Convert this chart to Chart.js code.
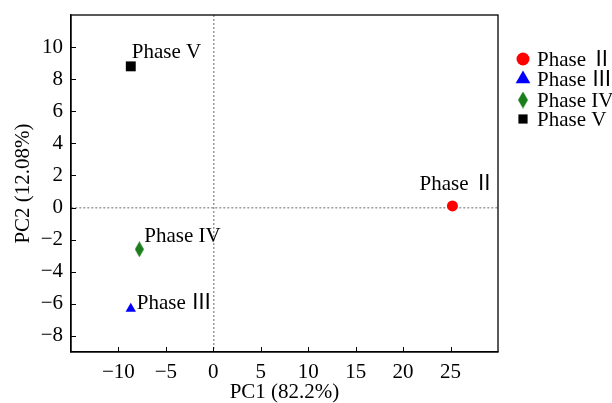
<!DOCTYPE html>
<html>
<head>
<meta charset="utf-8">
<script src="https://cdn.jsdelivr.net/npm/chart.js@4/dist/chart.umd.min.js"></script>
<style>
  html, body { margin: 0; padding: 0; background: #fff; }
  #wrap { width: 612px; height: 403px; }
</style>
</head>
<body>
<div id="wrap"><canvas id="pca"></canvas></div>
<script>
// values
var phases = ["Phase \u2161", "Phase \u2162", "Phase IV", "Phase V"];
var pc1 = [25.2, -8.7, -7.8, -8.7];
var pc2 = [0.1, -6.3, -2.6, 8.8];
var xTicks = [-10, -5, 0, 5, 10, 15, 20, 25];
var yTicks = [-8, -6, -4, -2, 0, 2, 4, 6, 8, 10];

var FONT = "'Liberation Serif', 'Noto Sans CJK SC', serif";
var FS = 21;

// narrow diamond marker
function makeDiamond(w, h, color) {
    var c = document.createElement("canvas");
    c.width = w; c.height = h;
    var g = c.getContext("2d");
    g.fillStyle = color;
    g.beginPath();
    g.moveTo(w / 2, 0);
    g.lineTo(w, h / 2);
    g.lineTo(w / 2, h);
    g.lineTo(0, h / 2);
    g.closePath();
    g.fill();
    return c;
}

var colors = ["#ff0000", "#0000ff", "#1b7d1b", "#000000"];
var styles = ["circle", "triangle", makeDiamond(9, 16, "#1b7d1b"), "rect"];
var radii = [5.5, 6, 8, 7];
var legendRadii = [6.5, 8.5, 8, 6.5];
var legendDiamond = makeDiamond(10, 17, "#1b7d1b");
// label offset from the point: [dx, dy] to the text's left baseline
var labelOffsets = [[-33, -16], [6, 0], [5, -7], [1, -8]];

var datasets = [];
for (var i = 0; i < phases.length; i++) {
    datasets.push({
        label: phases[i],
        data: [{x: pc1[i], y: pc2[i]}],
        pointStyle: styles[i],
        pointRadius: radii[i],
        pointHoverRadius: radii[i],
        backgroundColor: colors[i],
        borderColor: colors[i],
        borderWidth: 0
    });
}

function zeroLine(ctx) {
    return (ctx.tick && ctx.tick.value === 0) ? "#9a9a9a" : "rgba(0,0,0,0)";
}

function minusLabel(v) {
    return v < 0 ? "\u2212" + Math.abs(v) : String(v);
}

var framePlugin = {
    id: "frame",
    afterDraw: function(chart) {
        var ctx = chart.ctx;
        var a = chart.chartArea;
        var xs = chart.scales.x, ys = chart.scales.y;
        ctx.save();
        ctx.strokeStyle = "#000";
        ctx.lineWidth = 1.3;
        ctx.strokeRect(a.left, a.top, a.right - a.left, a.bottom - a.top);
        // inward ticks
        ctx.lineWidth = 1;
        ctx.beginPath();
        xTicks.forEach(function(v) {
            var px = Math.round(xs.getPixelForValue(v)) + 0.5;
            ctx.moveTo(px, a.bottom);
            ctx.lineTo(px, a.bottom - 5);
        });
        yTicks.forEach(function(v) {
            var py = Math.round(ys.getPixelForValue(v)) + 0.5;
            ctx.moveTo(a.left, py);
            ctx.lineTo(a.left + 5, py);
        });
        ctx.stroke();

        // legend outside the plot
        var lx = 523, ly = [59, 79, 100, 119];
        ctx.font = FS + "px " + FONT;
        ctx.textBaseline = "middle";
        ctx.textAlign = "left";
        for (var i = 0; i < phases.length; i++) {
            ctx.fillStyle = colors[i];
            ctx.strokeStyle = colors[i];
            var st = (i === 2) ? legendDiamond : styles[i];
            Chart.helpers.drawPoint(ctx, {pointStyle: st, radius: legendRadii[i], rotation: 0, borderWidth: 0}, lx, ly[i]);
            ctx.fillStyle = "#000";
            ctx.fillText(phases[i], 537, ly[i] + 1);
        }
        ctx.restore();
    },
    afterDatasetsDraw: function(chart) {
        var ctx = chart.ctx;
        ctx.save();
        ctx.font = FS + "px " + FONT;
        ctx.fillStyle = "#000";
        ctx.textBaseline = "alphabetic";
        ctx.textAlign = "left";
        chart.data.datasets.forEach(function(ds, i) {
            var pt = chart.getDatasetMeta(i).data[0];
            ctx.fillText(ds.label, pt.x + labelOffsets[i][0], pt.y + labelOffsets[i][1]);
        });
        ctx.restore();
    }
};

new Chart(document.getElementById("pca"), {
    type: "scatter",
    data: { datasets: datasets },
    options: {
        responsive: true,
        maintainAspectRatio: false,
        animation: false,
        events: [],
        layout: { padding: { left: 0, right: 114, top: 15, bottom: 0 } },
        plugins: {
            legend: { display: false },
            tooltip: { enabled: false }
        },
        scales: {
            x: {
                type: "linear",
                min: -15,
                max: 30,
                afterBuildTicks: function(scale) {
                    scale.ticks = xTicks.map(function(v) { return {value: v}; });
                },
                afterFit: function(scale) {
                    scale.height = 51;
                    scale.paddingLeft = 0;
                    scale.paddingRight = 0;
                },
                grid: { color: zeroLine, lineWidth: 1.5, drawTicks: false },
                border: { display: true, color: "#000", width: 1.3, dash: [2, 2] },
                ticks: {
                    color: "#000",
                    padding: 8,
                    font: { family: FONT, size: FS },
                    callback: minusLabel
                },
                title: {
                    display: true,
                    text: "PC1 (82.2%)",
                    color: "#000",
                    font: { family: FONT, size: FS },
                    padding: { top: 0, bottom: -2 }
                }
            },
            y: {
                type: "linear",
                min: -9,
                max: 12,
                afterBuildTicks: function(scale) {
                    scale.ticks = yTicks.map(function(v) { return {value: v}; });
                },
                afterFit: function(scale) {
                    scale.width = 71;
                    scale.paddingTop = 0;
                    scale.paddingBottom = 0;
                },
                grid: { color: zeroLine, lineWidth: 1.5, drawTicks: false },
                border: { display: true, color: "#000", width: 1.3, dash: [2, 2] },
                ticks: {
                    color: "#000",
                    padding: 8,
                    font: { family: FONT, size: FS },
                    callback: minusLabel
                },
                title: {
                    display: true,
                    text: "PC2 (12.08%)",
                    color: "#000",
                    font: { family: FONT, size: FS },
                    padding: { top: 11, bottom: 0 }
                }
            }
        }
    },
    plugins: [framePlugin]
});
</script>
</body>
</html>
